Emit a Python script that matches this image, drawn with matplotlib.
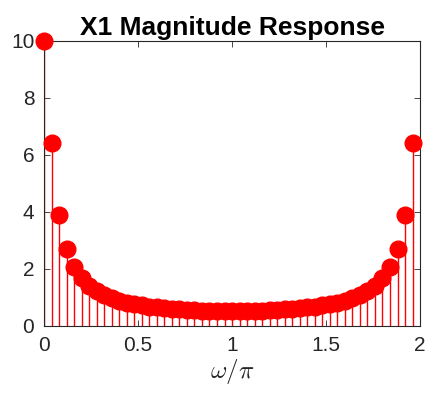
import numpy as np
import matplotlib
matplotlib.use("Agg")
import matplotlib.pyplot as plt

plt.rcParams["font.family"] = ["Liberation Sans", "DejaVu Sans"]
plt.rcParams["mathtext.fontset"] = "cm"

# |X1|, k = 0..25 (second half mirrors the first)
half = [10.0, 6.43, 3.88, 2.71, 2.07, 1.68, 1.42, 1.23, 1.09, 0.979,
        0.893, 0.824, 0.768, 0.721, 0.682, 0.650, 0.623, 0.600, 0.581,
        0.566, 0.553, 0.543, 0.536, 0.530, 0.527, 0.526]
mag = half + half[-2:0:-1]
N = len(mag)
w = [2 * k / N for k in range(N)]

RED = "#FF0000"
AX = "#262626"

fig = plt.figure(figsize=(4.29, 3.96), dpi=100)
ax = fig.add_axes([0.1026, 0.1768, 0.8766, 0.7197])

ml, sl, bl = ax.stem(w, mag, basefmt=" ")
plt.setp(sl, color=RED, linewidth=1.0)
plt.setp(ml, color=RED, markersize=12, markeredgecolor=RED, clip_on=False,
         zorder=5)

ax.set_xlim(0, 2)
ax.set_ylim(0, 10)
ax.set_xticks([0, 0.5, 1, 1.5, 2])
ax.set_xticklabels(["0", "0.5", "1", "1.5", "2"])
ax.set_yticks([0, 2, 4, 6, 8, 10])
ax.tick_params(direction="in", top=True, right=True, colors=AX,
               labelsize=15, length=4, width=0.6, pad=7)
for s in ax.spines.values():
    s.set_color(AX)
    s.set_linewidth(0.8)

ax.set_title("X1 Magnitude Response", fontsize=19, fontweight="bold", pad=4)
ax.set_xlabel(r"$\omega/\pi$", fontsize=18, color=AX, labelpad=2)

fig.savefig("out.png", dpi=100, facecolor="white")
